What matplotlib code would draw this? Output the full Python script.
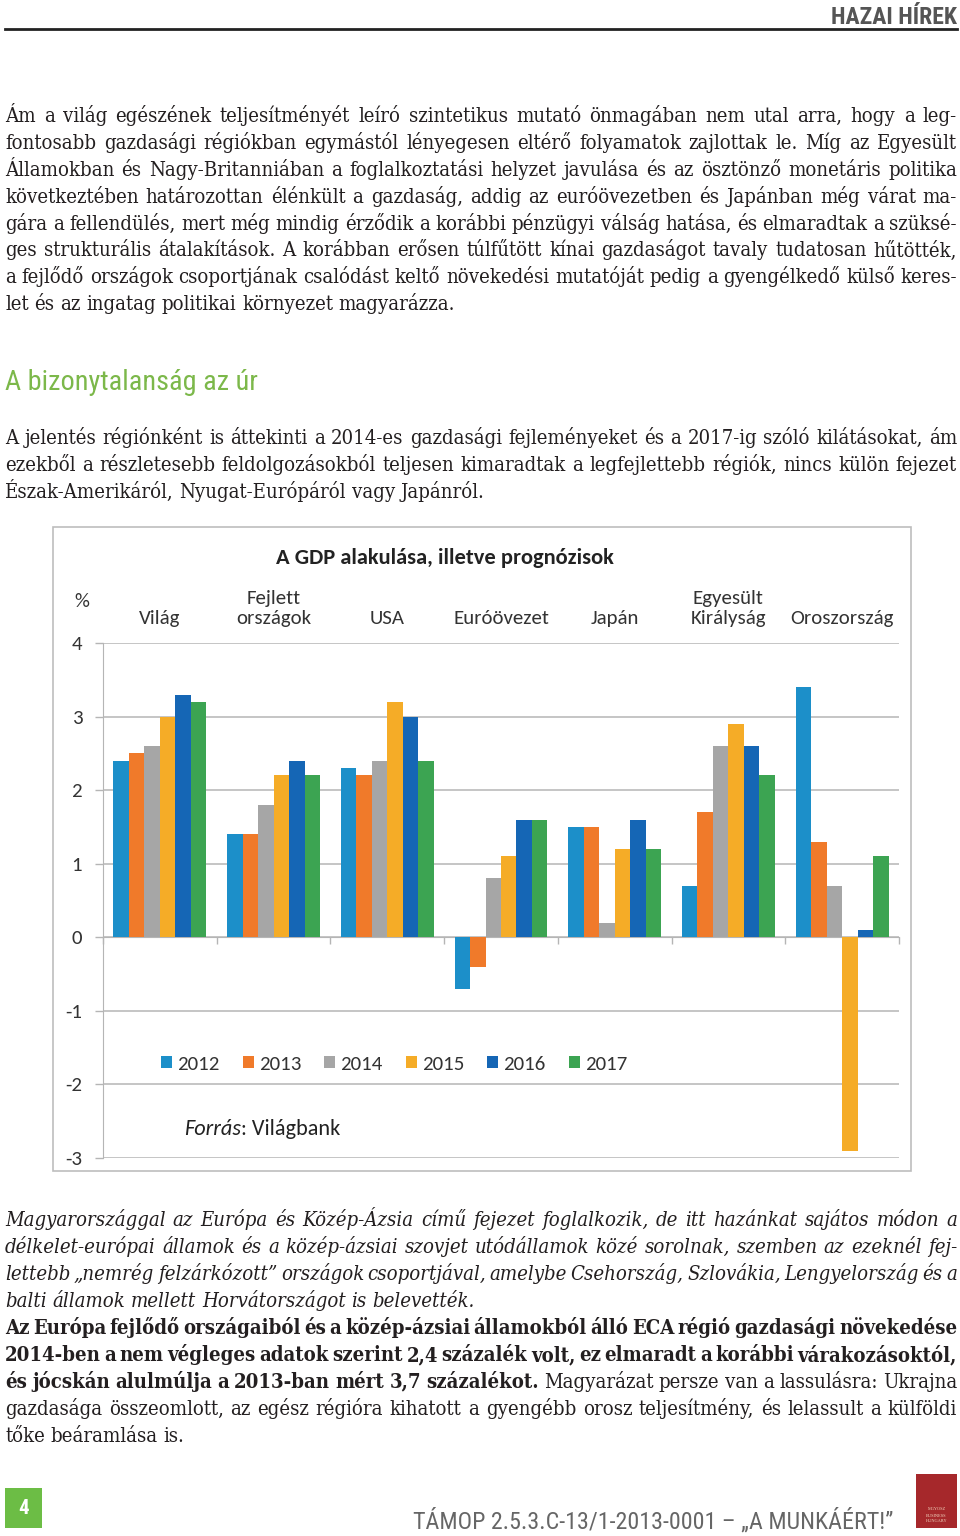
import matplotlib
matplotlib.use('Agg')
import matplotlib.pyplot as plt
from matplotlib.patches import Rectangle
from matplotlib import font_manager as fm
import numpy as np

# ---------------- data ----------------
categories = ['Világ', 'Fejlett\nországok', 'USA', 'Euróövezet', 'Japán',
              'Egyesült\nKirályság', 'Oroszország']
years = ['2012', '2013', '2014', '2015', '2016', '2017']
gdp_2012 = [2.4, 1.4, 2.3, -0.7, 1.5, 0.7, 3.4]
gdp_2013 = [2.5, 1.4, 2.2, -0.4, 1.5, 1.7, 1.3]
gdp_2014 = [2.6, 1.8, 2.4, 0.8, 0.2, 2.6, 0.7]
gdp_2015 = [3.0, 2.2, 3.2, 1.1, 1.2, 2.9, -2.9]
gdp_2016 = [3.3, 2.4, 3.0, 1.6, 1.6, 2.6, 0.1]
gdp_2017 = [3.2, 2.2, 2.4, 1.6, 1.2, 2.2, 1.1]
series = [gdp_2012, gdp_2013, gdp_2014, gdp_2015, gdp_2016, gdp_2017]
yticks = [-3, -2, -1, 0, 1, 2, 3, 4]
colors = ['#1c8fc9', '#f07a2a', '#a6a6a6', '#f5ac27', '#1566b5', '#3ca452']

chart_title = 'A GDP alakulása, illetve prognózisok'
source_label = 'Forrás'
source_text = ': Világbank'

header = 'HAZAI HÍREK'
heading = 'A bizonytalanság az úr'
footer = 'TÁMOP 2.5.3.C-13/1-2013-0001 – „A MUNKÁÉRT!”'
page_no = '4'

para1 = [
    [('Ám a világ egészének teljesítményét leíró szintetikus mutató önmagában nem utal arra, hogy a leg-', 'r')],
    [('fontosabb gazdasági régiókban egymástól lényegesen eltérő folyamatok zajlottak le. Míg az Egyesült', 'r')],
    [('Államokban és Nagy-Britanniában a foglalkoztatási helyzet javulása és az ösztönző monetáris politika', 'r')],
    [('következtében határozottan élénkült a gazdaság, addig az euróövezetben és Japánban még várat ma-', 'r')],
    [('gára a fellendülés, mert még mindig érződik a korábbi pénzügyi válság hatása, és elmaradtak a szüksé-', 'r')],
    [('ges strukturális átalakítások. A korábban erősen túlfűtött kínai gazdaságot tavaly tudatosan hűtötték,', 'r')],
    [('a fejlődő országok csoportjának csalódást keltő növekedési mutatóját pedig a gyengélkedő külső keres-', 'r')],
    [('let és az ingatag politikai környezet magyarázza.', 'r')],
]
para2 = [
    [('A jelentés régiónként is áttekinti a 2014-es gazdasági fejleményeket és a 2017-ig szóló kilátásokat, ám', 'r')],
    [('ezekből a részletesebb feldolgozásokból teljesen kimaradtak a legfejlettebb régiók, nincs külön fejezet', 'r')],
    [('Észak-Amerikáról, Nyugat-Európáról vagy Japánról.', 'r')],
]
para3 = [
    [('Magyarországgal az Európa és Közép-Ázsia című fejezet foglalkozik, de itt hazánkat sajátos módon a', 'i')],
    [('délkelet-európai államok és a közép-ázsiai szovjet utódállamok közé sorolnak, szemben az ezeknél fej-', 'i')],
    [('lettebb „nemrég felzárkózott” országok csoportjával, amelybe Csehország, Szlovákia, Lengyelország és a', 'i')],
    [('balti államok mellett Horvátországot is belevették.', 'i')],
]
para4 = [
    [('Az Európa fejlődő országaiból és a közép-ázsiai államokból álló ECA régió gazdasági növekedése', 'b')],
    [('2014-ben a nem végleges adatok szerint 2,4 százalék volt, ez elmaradt a korábbi várakozásoktól,', 'b')],
    [('és jócskán alulmúlja a 2013-ban mért 3,7 százalékot.', 'b'), ('Magyarázat persze van a lassulásra: Ukrajna', 'r')],
    [('gazdasága összeomlott, az egész régióra kihatott a gyengébb orosz teljesítmény, és lelassult a külföldi', 'r')],
    [('tőke beáramlása is.', 'r')],
]


def pick(*names):
    for n in names:
        try:
            fm.findfont(fm.FontProperties(family=n), fallback_to_default=False)
            return n
        except Exception:
            pass
    return 'DejaVu Sans'


COND = pick('Liberation Sans Narrow', 'Roboto Condensed', 'Roboto')
SANS = pick('Carlito', 'Lato')
SERIF = pick('Liberation Serif', 'DejaVu Serif')
SERIF_STRETCH = 'normal'
try:
    _f = fm.findfont(fm.FontProperties(family='DejaVu Serif', stretch='condensed'),
                     fallback_to_default=False)
    if 'ondensed' in _f:
        SERIF = 'DejaVu Serif'
        SERIF_STRETCH = 'condensed'
except Exception:
    pass

W, H = 960, 1536
fig = plt.figure(figsize=(W / 100, H / 100), dpi=100)
renderer = fig.canvas.get_renderer()


def fx(x):
    return x / W


def fy(y):
    return 1 - y / H


TXT = '#231f20'


def style_kw(st, fs):
    kw = dict(fontsize=fs, family=SERIF, color=TXT, fontstretch=SERIF_STRETCH)
    if st == 'i':
        kw['style'] = 'italic'
    if st == 'b':
        kw['weight'] = 'bold'
    return kw


def measure(s, **kw):
    t = fig.text(0, 0, s, **kw)
    w = t.get_window_extent(renderer).width
    t.remove()
    return w


X0, X1 = 5, 957


def words_of(line):
    out = []
    for txt, st in line:
        for w in txt.split(' '):
            if w:
                out.append((w, st))
    return out


base = 15.0
# target size: the short closing line of paragraph 1 is ~452 px wide in the page
FS_target = base * 452 / measure(para1[-1][0][0], **style_kw('r', base))
space_base = measure('a a', **style_kw('r', base)) - 2 * measure('a', **style_kw('r', base))


def fit_size(lines):
    maxnat = 0
    for line in lines[:-1]:
        ws = words_of(line)
        tot = sum(measure(w, **style_kw(st, base)) for w, st in ws)
        nat = tot + space_base * 0.55 * (len(ws) - 1)
        maxnat = max(maxnat, nat)
    return min(FS_target, base * (X1 - X0) / maxnat)


def draw_para(lines, y0, step=26.9):
    FS = fit_size(lines)
    sp = measure('a a', **style_kw('r', FS)) - 2 * measure('a', **style_kw('r', FS))
    for k, line in enumerate(lines):
        ws = words_of(line)
        widths = [measure(w, **style_kw(st, FS)) for w, st in ws]
        last = (k == len(lines) - 1)
        if last or len(ws) < 2:
            gap = sp
        else:
            gap = (X1 - X0 - sum(widths)) / (len(ws) - 1)
        x = X0
        y = y0 + k * step
        for (w, st), wd in zip(ws, widths):
            fig.text(fx(x), fy(y), w, ha='left', va='baseline', **style_kw(st, FS))
            x += wd + gap


# ---------------- page furniture ----------------
fig.text(fx(957), fy(17), header, ha='right', va='center', family=COND,
         weight='bold', fontsize=17, color='#555555')
fig.add_artist(plt.Line2D([fx(5), fx(957)], [fy(29), fy(29)], color='#222222', lw=2))

draw_para(para1, 122)
fig.text(fx(5), fy(383), heading, ha='left', va='center', family=COND,
         fontsize=20.3, color='#7cb84a')
draw_para(para2, 444)
draw_para(para3, 1226)
draw_para(para4, 1334)

# footer
fig.add_artist(Rectangle((fx(5), fy(1528)), fx(37), 40 / H, transform=fig.transFigure,
                         facecolor='#6cbd45', edgecolor='none'))
fig.text(fx(23.5), fy(1508), page_no, ha='center', va='center', color='white',
         weight='bold', family=COND, fontsize=15)
fig.text(fx(893), fy(1521), footer, ha='right', va='center', family=COND,
         fontsize=17.3, color='#666666')
fig.add_artist(Rectangle((fx(916), fy(1528)), fx(41), 54 / H, transform=fig.transFigure,
                         facecolor='#a6282b', edgecolor='none'))
for t, yy in [('MGYOSZ', 1509), ('BUSINESS', 1516), ('HUNGARY', 1521)]:
    fig.text(fx(936.5), fy(yy), t, ha='center', va='center', color='#f2d7c0',
             fontsize=3.2, family='Liberation Serif')

# ---------------- chart ----------------
fig.add_artist(Rectangle((fx(53), fy(1171)), fx(858), (1171 - 527) / H,
                         transform=fig.transFigure, facecolor='none',
                         edgecolor='#bdbdbd', lw=1.2))

AX_L, AX_R, AX_T, AX_B = 103, 899, 643, 1158
ax = fig.add_axes([fx(AX_L), fy(AX_B), (AX_R - AX_L) / W, (AX_B - AX_T) / H])
ax.set_facecolor('none')

CFS = 15
x = np.arange(len(categories))
bw = 0.136
handles = []
for i, (vals, col, yr) in enumerate(zip(series, colors, years)):
    b = ax.bar(x + (i - 2.5) * bw, vals, width=bw, color=col, label=yr, zorder=3)
    handles.append(b)

ax.set_xlim(-0.5, len(categories) - 0.5)
ax.set_ylim(-3, 4)
GRID = '#b5b5b5'
ax.set_yticks(yticks)
ax.set_yticklabels([str(v) for v in yticks])
ax.yaxis.grid(True, color=GRID, lw=1.1, zorder=0)
ax.set_axisbelow(True)

for s in ['top', 'right']:
    ax.spines[s].set_visible(False)
ax.spines['left'].set_color(GRID)
ax.spines['bottom'].set_position(('data', 0))
ax.spines['bottom'].set_color(GRID)
ax.spines['bottom'].set_zorder(2)

ax.set_xticks(np.arange(len(categories) + 1) - 0.5)
ax.set_xticks(x, minor=True)
ax.set_xticklabels(categories, minor=True)
ax.tick_params(axis='x', which='major', bottom=True, top=False, labelbottom=False,
               length=5, color=GRID, width=1)
ax.tick_params(axis='x', which='minor', bottom=False, top=False, labelbottom=False,
               labeltop=True, length=0, pad=11.5, labelsize=CFS, labelcolor='#333333')
ax.tick_params(axis='y', length=6, color=GRID, width=1, pad=9, labelsize=CFS,
               labelcolor='#333333')
for lab in ax.get_xticklabels(minor=True) + ax.get_yticklabels():
    lab.set_family(SANS)
for lab in ax.get_xticklabels(minor=True):
    lab.set_linespacing(1.2)

fig.text(fx(445), fy(558), chart_title, ha='center', va='center', family=SANS,
         weight='bold', fontsize=16.2, color='#222222')
fig.text(fx(82), fy(602), '%', ha='center', va='center', family=SANS,
         fontsize=CFS, color='#333333')

leg = ax.legend(handles=handles, loc='center left', bbox_to_anchor=(fx(161), fy(1064)),
                bbox_transform=fig.transFigure, ncol=6, frameon=False,
                handlelength=0.53, handleheight=0.53, handletextpad=0.25,
                columnspacing=1.1, borderaxespad=0, borderpad=0,
                prop=fm.FontProperties(family=SANS, size=CFS))
for t in leg.get_texts():
    t.set_color('#333333')

st = fig.text(fx(184), fy(1129), source_label, ha='left', va='center', family=SANS,
              style='italic', fontsize=16, color='#222222')
sw = st.get_window_extent(renderer).width
fig.text(fx(184 + sw), fy(1129), source_text, ha='left', va='center', family=SANS,
         fontsize=16, color='#222222')

fig.savefig('out.png', dpi=100)
